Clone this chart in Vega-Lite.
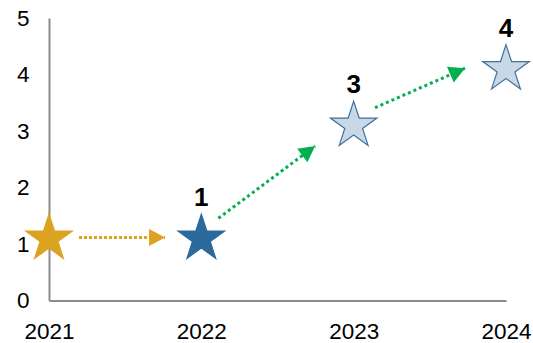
{
  "$schema": "https://vega.github.io/schema/vega-lite/v6.json",
  "width": 457,
  "height": 282.5,
  "autosize": {"type": "none"},
  "padding": {"left": 49, "top": 18, "right": 27, "bottom": 42.5},
  "background": "white",
  "config": {
    "view": {"stroke": null},
    "font": "Liberation Sans",
    "axis": {
      "grid": false,
      "ticks": false,
      "tickSize": 0,
      "domainColor": "#8c8c8c",
      "domainWidth": 2,
      "labelFont": "Liberation Sans",
      "labelFontSize": 22.5,
      "labelColor": "#000000",
      "labelFlush": false,
      "labelOverlap": false,
      "labelBound": false,
      "title": null
    }
  },
  "datasets": {
    "stars": [
      {"year": 2021, "value": 1, "label": "", "kind": "start"},
      {"year": 2022, "value": 1, "label": "1", "kind": "current"},
      {"year": 2023, "value": 3, "label": "3", "kind": "future"},
      {"year": 2024, "value": 4, "label": "4", "kind": "future"}
    ],
    "arrows": [
      {"x": 2021.197, "y": 1.115, "x2": 2021.762, "y2": 1.115, "angle": 0, "kind": "gold"},
      {"x": 2022.112, "y": 1.455, "x2": 2022.747, "y2": 2.735, "angle": -36.8, "kind": "green"},
      {"x": 2023.14, "y": 3.412, "x2": 2023.731, "y2": 4.111, "angle": -23.6, "kind": "green"}
    ]
  },
  "layer": [
    {
      "data": {"name": "arrows"},
      "transform": [{"filter": "datum.kind === 'gold'"}],
      "mark": {"type": "rule", "strokeWidth": 3, "strokeDash": [3, 2], "color": "#DCA321"},
      "encoding": {
        "x": {"field": "x", "type": "quantitative", "scale": {"domain": [2021, 2024]}, "axis": {"values": [2021, 2022, 2023, 2024], "format": "d", "labelPadding": 20}},
        "y": {"field": "y", "type": "quantitative", "scale": {"domain": [0, 5]}, "axis": {"values": [0, 1, 2, 3, 4, 5], "format": "d", "labelPadding": 20}},
        "x2": {"field": "x2"},
        "y2": {"field": "y2"}
      }
    },
    {
      "data": {"name": "arrows"},
      "transform": [{"filter": "datum.kind === 'green'"}],
      "mark": {"type": "rule", "strokeWidth": 3, "strokeDash": [3, 3], "color": "#00B050"},
      "encoding": {
        "x": {"field": "x", "type": "quantitative"},
        "y": {"field": "y", "type": "quantitative"},
        "x2": {"field": "x2"},
        "y2": {"field": "y2"}
      }
    },
    {
      "data": {"name": "arrows"},
      "mark": {"type": "point", "filled": true, "opacity": 1, "size": 1024, "shape": "M0,0L-1,-0.53L-1,0.53Z", "strokeWidth": 0},
      "encoding": {
        "x": {"field": "x2", "type": "quantitative"},
        "y": {"field": "y2", "type": "quantitative"},
        "angle": {"field": "angle", "type": "quantitative", "scale": null},
        "color": {"field": "kind", "type": "nominal", "scale": {"domain": ["gold", "green"], "range": ["#DCA321", "#00B050"]}, "legend": null}
      }
    },
    {
      "data": {"name": "stars"},
      "mark": {"type": "point", "filled": true, "opacity": 1, "size": 2401, "strokeWidth": 1.2, "shape": "M0,-1.22L0.2245,-0.529L0.951,-0.529L0.3633,-0.102L0.588,0.589L0,0.162L-0.588,0.589L-0.3633,-0.102L-0.951,-0.529L-0.2245,-0.529Z"},
      "encoding": {
        "x": {"field": "year", "type": "quantitative"},
        "y": {"field": "value", "type": "quantitative"},
        "fill": {"field": "kind", "type": "nominal", "scale": {"domain": ["start", "current", "future"], "range": ["#DCA321", "#2C6A9B", "#C9D8E6"]}, "legend": null},
        "stroke": {"field": "kind", "type": "nominal", "scale": {"domain": ["start", "current", "future"], "range": ["#DCA321", "#2C6A9B", "#41719C"]}, "legend": null}
      }
    },
    {
      "data": {"name": "stars"},
      "mark": {"type": "text", "fontWeight": "bold", "fontSize": 26, "dy": -38, "baseline": "alphabetic", "align": "center", "color": "#000000"},
      "encoding": {
        "x": {"field": "year", "type": "quantitative"},
        "y": {"field": "value", "type": "quantitative"},
        "text": {"field": "label", "type": "nominal"}
      }
    }
  ]
}
